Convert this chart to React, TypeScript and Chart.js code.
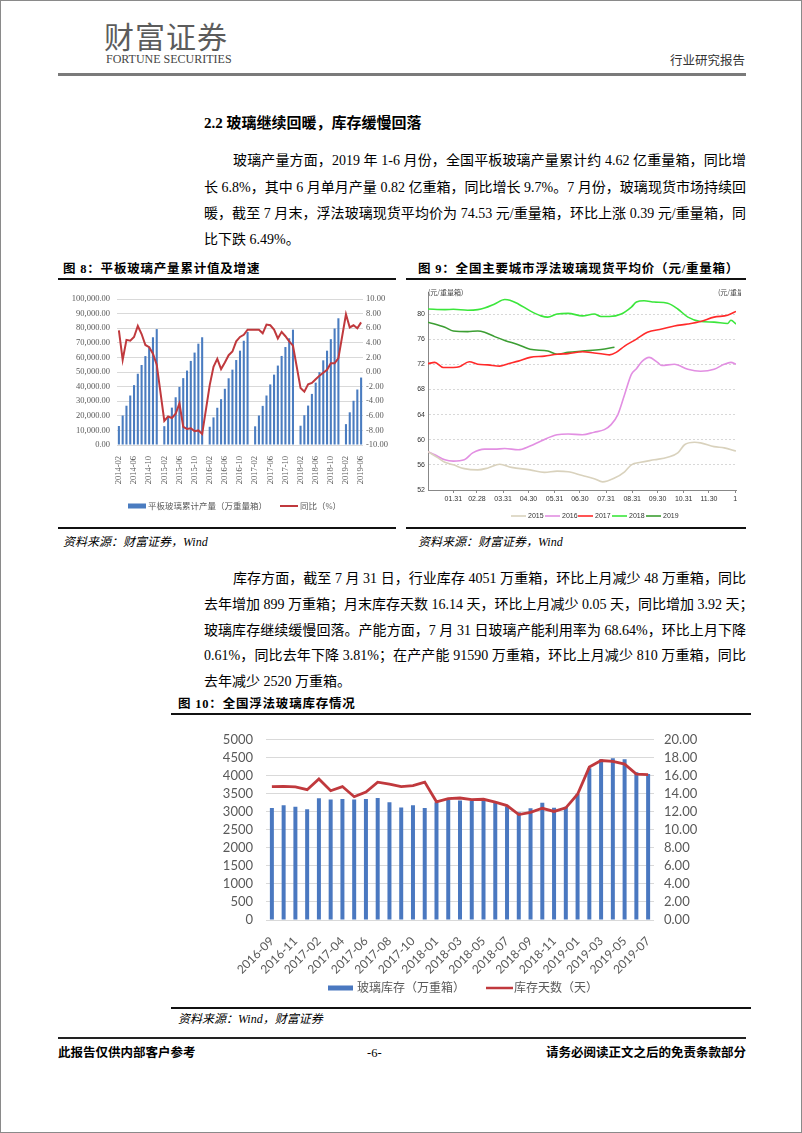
import React, { useEffect, useRef } from 'react';
import { Chart, registerables } from 'chart.js';
Chart.register(...registerables);

// ---------------- Figure 8: flat glass cumulative output & YoY ----------------
const fig8Months = [
  '2014-02','2014-03','2014-04','2014-05','2014-06','2014-07','2014-08','2014-09','2014-10','2014-11','2014-12',
  '2015-01','2015-02','2015-03','2015-04','2015-05','2015-06','2015-07','2015-08','2015-09','2015-10','2015-11','2015-12',
  '2016-01','2016-02','2016-03','2016-04','2016-05','2016-06','2016-07','2016-08','2016-09','2016-10','2016-11','2016-12',
  '2017-01','2017-02','2017-03','2017-04','2017-05','2017-06','2017-07','2017-08','2017-09','2017-10','2017-11','2017-12',
  '2018-01','2018-02','2018-03','2018-04','2018-05','2018-06','2018-07','2018-08','2018-09','2018-10','2018-11','2018-12',
  '2019-01','2019-02','2019-03','2019-04','2019-05','2019-06',
];
const fig8Output = [
  13000, 20200, 26900, 33900, 41000, 48800, 54800, 60900, 67400, 73800, 79400,
  null, 12900, 19500, 25600, 32700, 39800, 45800, 51000, 57600, 63300, 69400, 73800,
  null, 12500, 18900, 25500, 31400, 38500, 45700, 51600, 58200, 64600, 71400, 77400,
  null, 12800, 20200, 26800, 33900, 41500, 48200, 54400, 61000, 67100, 73100, 79000,
  null, 13200, 20400, 27000, 35000, 42700, 49900, 58000, 64600, 72500, 79800, 86800,
  null, 14300, 22400, 30300, 38000, 46200,
];
const fig8Yoy = [
  5.7, 1.65, 4.4, 4.3, 4.8, 6.3, 5.2, 3.7, 3.4, 2.5, 1.0,
  null, -6.7, -6.1, -6.3, -5.7, -4.3, -7.5, -7.8, -7.7, -8.1, -8.0, -8.5,
  null, -1.8, 0.7, 1.8, 0.4, 1.3, 2.3, 2.8, 4.2, 4.8, 5.1, 5.8,
  null, 5.8, 5.8, 5.3, 6.5, 6.4, 5.8, 4.6, 5.5, 4.9, 4.2, 3.6,
  null, -2.2, -2.7, -1.7, -1.5, -1.0, -0.5, -0.1, 0.3, 1.2, 1.2, 1.9,
  null, 7.9, 6.1, 6.4, 6.0, 6.8,
];
const fig8LeftTicks = [0, 10000, 20000, 30000, 40000, 50000, 60000, 70000, 80000, 90000, 100000];
const fig8RightTicks = [-10, -8, -6, -4, -2, 0, 2, 4, 6, 8, 10];

// ---------------- Figure 9: float glass spot price by year (day of year, price) ----------------
const fig9TickDays = [30, 58, 89, 119, 150, 180, 211, 242, 272, 303, 333, 364];
const fig9TickLabels = ['01.31', '02.28', '03.31', '04.30', '05.31', '06.30', '07.31', '08.31', '09.30', '10.31', '11.30', '1'];
const fig9YTicks = [52, 56, 60, 64, 68, 72, 76, 80];
const price2015: [number, number][] = [
  [0, 58.1], [12, 57.1], [20, 56.4], [30, 56.0], [43, 55.4], [59, 55.2], [71, 55.5], [85, 56.1], [99, 55.6],
  [121, 55.2], [138, 54.8], [153, 55.0], [166, 54.9], [183, 54.3], [197, 53.8], [207, 53.3], [221, 53.9],
  [233, 54.9], [241, 56.0], [252, 56.4], [268, 56.8], [284, 57.2], [296, 57.9], [304, 59.2], [316, 59.6],
  [323, 59.5], [339, 58.9], [351, 58.7], [365, 58.2],
];
const price2016: [number, number][] = [
  [0, 58.1], [8, 57.6], [20, 56.8], [30, 56.6], [43, 56.8], [53, 57.9], [67, 58.5], [79, 58.5], [91, 58.6],
  [107, 58.4], [121, 59.0], [134, 59.8], [153, 60.8], [166, 60.9], [183, 60.8], [197, 61.2], [209, 61.6],
  [217, 62.4], [225, 64.0], [233, 67.2], [241, 70.4], [247, 71.3], [254, 72.5], [262, 73.1], [272, 72.3],
  [277, 71.8], [292, 72.0], [308, 71.2], [323, 70.9], [339, 71.2], [351, 72.0], [359, 72.3], [365, 72.0],
];
const price2017: [number, number][] = [
  [0, 72.1], [8, 72.3], [18, 71.5], [30, 71.5], [37, 71.6], [49, 72.4], [59, 72.0], [71, 71.9], [85, 71.7],
  [95, 72.1], [107, 72.5], [121, 73.1], [138, 73.3], [153, 73.6], [166, 73.7], [183, 74.0], [197, 73.8],
  [209, 73.6], [215, 73.5], [223, 73.9], [233, 74.9], [247, 76.0], [260, 77.1], [277, 77.6], [292, 78.1],
  [308, 78.4], [323, 78.8], [339, 79.5], [355, 79.8], [365, 80.4],
];
const price2018: [number, number][] = [
  [0, 80.8], [20, 80.7], [30, 80.75], [47, 80.6], [59, 80.7], [67, 80.96], [79, 81.6], [91, 82.3], [97, 82.2],
  [107, 81.6], [121, 80.5], [134, 79.7], [142, 79.5], [153, 80.0], [166, 80.1], [183, 79.7], [197, 80.0],
  [205, 79.6], [215, 79.6], [229, 80.0], [241, 81.1], [247, 81.9], [256, 82.1], [268, 81.9], [284, 81.7],
  [296, 80.8], [308, 79.5], [323, 78.8], [339, 78.7], [355, 78.5], [359, 79.0], [365, 78.4],
];
const price2019: [number, number][] = [
  [0, 78.7], [20, 77.9], [30, 77.3], [47, 77.2], [59, 77.3], [67, 77.1], [79, 76.4], [91, 75.8], [107, 75.1],
  [121, 74.4], [142, 74.1], [153, 73.6], [166, 73.9], [183, 74.1], [205, 74.35], [221, 74.7],
];
const fig9Years = ['2015', '2016', '2017', '2018', '2019'];
const fig9Colors = ['#d9d2bd', '#e28fe2', '#ff2a2a', '#3be63b', '#3c9e33'];

// ---------------- Figure 10: float glass inventory ----------------
const fig10Months = [
  '2016-09','2016-10','2016-11','2016-12','2017-02','2017-03','2017-04','2017-05','2017-06','2017-07','2017-08',
  '2017-09','2017-10','2017-11','2018-01','2018-02','2018-03','2018-04','2018-05','2018-06','2018-07','2018-08',
  '2018-09','2018-10','2018-11','2018-12','2019-01','2019-02','2019-03','2019-04','2019-05','2019-06','2019-07',
];
const fig10Stock = [
  3105, 3185, 3140, 3070, 3375, 3345, 3360, 3345, 3360, 3385, 3270,
  3125, 3185, 3105, 3265, 3330, 3316, 3316, 3300, 3246, 3150, 2990,
  3100, 3250, 3115, 3140, 3500, 4210, 4460, 4490, 4460, 4099, 4051,
];
const fig10Days = [
  14.81, 14.84, 14.77, 14.46, 15.65, 14.35, 14.81, 13.68, 14.21, 15.30, 15.09,
  14.81, 14.91, 15.30, 13.12, 13.48, 13.54, 13.37, 13.40, 13.09, 12.7, 11.7,
  11.95, 12.4, 12.05, 12.45, 13.96, 16.97, 17.7, 17.6, 17.3, 16.19, 16.14,
];
const fig10LeftTicks = [0, 500, 1000, 1500, 2000, 2500, 3000, 3500, 4000, 4500, 5000];
const fig10RightTicks = [0, 2, 4, 6, 8, 10, 12, 14, 16, 18, 20];

const SERIF = "'Liberation Serif','Noto Sans CJK SC',serif";
const CJK = "'Noto Sans CJK SC','Liberation Serif',sans-serif";

const fixTicks = (vals: number[]) => (s: any) => { s.ticks = vals.map((v) => ({ value: v })); };

type LegendItem = { ds: number; type: 'rect' | 'line'; x: number; y: number; w: number; h: number; gap: number };

function legendPlugin(id: string, items: LegendItem[], font: string, textColor: string) {
  return {
    id,
    afterDraw(chart: any) {
      const ctx = chart.ctx;
      ctx.save();
      ctx.font = font;
      ctx.textBaseline = 'middle';
      ctx.textAlign = 'left';
      for (const it of items) {
        const ds = chart.data.datasets[it.ds];
        if (it.type === 'rect') {
          ctx.fillStyle = ds.backgroundColor;
          ctx.fillRect(it.x, it.y - it.h / 2, it.w, it.h);
        } else {
          ctx.strokeStyle = ds.borderColor;
          ctx.lineWidth = it.h;
          ctx.beginPath();
          ctx.moveTo(it.x, it.y);
          ctx.lineTo(it.x + it.w, it.y);
          ctx.stroke();
        }
        ctx.fillStyle = textColor;
        ctx.fillText(ds.label, it.x + it.w + it.gap, it.y + 0.5);
      }
      ctx.restore();
    },
  };
}

function unitPlugin() {
  return {
    id: 'unitLabels',
    afterDraw(chart: any) {
      const ctx = chart.ctx;
      ctx.save();
      ctx.font = "7px 'Noto Sans CJK SC','Liberation Sans'";
      ctx.fillStyle = '#444';
      ctx.textBaseline = 'middle';
      ctx.fillText('(元/重量箱)', 22, 8);
      ctx.fillText('(元/重量箱)', 312, 8);
      ctx.restore();
    },
  };
}

function fig8Config(): any {
  const tickFont = { family: SERIF, size: 8.5 };
  return {
    data: {
      labels: fig8Months,
      datasets: [
        {
          type: 'line', label: '同比（%）', data: fig8Yoy, borderColor: '#c0393d', backgroundColor: '#c0393d',
          borderWidth: 2, pointRadius: 0, spanGaps: true, yAxisID: 'y1', order: 0, tension: 0,
        },
        {
          type: 'bar', label: '平板玻璃累计产量（万重量箱）', data: fig8Output, backgroundColor: '#4a7cc0',
          yAxisID: 'y', barPercentage: 0.55, categoryPercentage: 1, order: 1,
        },
      ],
    },
    options: {
      responsive: false, animation: false,
      layout: { padding: { top: 13, left: 0, right: 0, bottom: 0 } },
      plugins: { legend: { display: false }, tooltip: { enabled: false } },
      scales: {
        x: {
          grid: { display: false }, border: { display: false },
          ticks: {
            autoSkip: false, maxRotation: 90, minRotation: 90, padding: 3, font: tickFont, color: '#595959',
            callback: (_v: any, i: number) => (i % 4 === 0 ? fig8Months[i] : ''),
          },
          afterFit: (s: any) => { s.height = 76; },
        },
        y: {
          position: 'left', min: 0, max: 100000,
          afterBuildTicks: fixTicks(fig8LeftTicks),
          ticks: {
            autoSkip: false, padding: 7, font: tickFont, color: '#595959',
            callback: (v: any) => Number(v).toLocaleString('en-US', { minimumFractionDigits: 2, maximumFractionDigits: 2 }),
          },
          grid: { color: '#d9d9d9', drawTicks: false }, border: { display: false },
          afterFit: (s: any) => { s.width = 59; },
        },
        y1: {
          position: 'right', min: -10, max: 10,
          afterBuildTicks: fixTicks(fig8RightTicks),
          ticks: { autoSkip: false, padding: 3, font: tickFont, color: '#595959', callback: (v: any) => Number(v).toFixed(2) },
          grid: { display: false, drawTicks: false }, border: { display: false },
          afterFit: (s: any) => { s.width = 35; },
        },
      },
    },
    plugins: [
      legendPlugin('leg8', [
        { ds: 1, type: 'rect', x: 70, y: 220, w: 18, h: 5, gap: 2 },
        { ds: 0, type: 'line', x: 222, y: 220, w: 18, h: 2, gap: 2 },
      ], `8.5px ${SERIF}`, '#595959'),
    ],
  };
}

function fig9Config(): any {
  const series = [price2015, price2016, price2017, price2018, price2019];
  const tickFont = { family: "'Liberation Sans',sans-serif", size: 7 };
  return {
    type: 'line',
    data: {
      datasets: series.map((s, i) => ({
        label: fig9Years[i],
        data: s.map(([d, v]) => ({ x: d, y: v })),
        borderColor: fig9Colors[i], backgroundColor: fig9Colors[i],
        borderWidth: 1.6, pointRadius: 0, tension: 0.35, cubicInterpolationMode: 'monotone',
      })),
    },
    options: {
      responsive: false, animation: false,
      layout: { padding: { top: 8, left: 0, right: 5, bottom: 0 } },
      plugins: { legend: { display: false }, tooltip: { enabled: false } },
      scales: {
        x: {
          type: 'linear', min: 0, max: 365,
          afterBuildTicks: fixTicks(fig9TickDays),
          ticks: {
            autoSkip: false, maxRotation: 0, minRotation: 0, padding: 2, font: tickFont, color: '#333',
            callback: (_v: any, i: number) => fig9TickLabels[i],
          },
          grid: { drawOnChartArea: false, drawTicks: true, tickLength: 3, color: '#888' },
          border: { display: true, color: '#888' },
          afterFit: (s: any) => { s.height = 34; },
        },
        y: {
          min: 52, max: 83.5,
          afterBuildTicks: fixTicks(fig9YTicks),
          ticks: { autoSkip: false, padding: 3, font: tickFont, color: '#333', callback: (v: any) => String(v) },
          grid: { color: '#d8d8d8', drawTicks: false },
          border: { display: true, color: '#888', dash: [2, 2] },
          afterFit: (s: any) => { s.width = 22; },
        },
      },
    },
    plugins: [
      unitPlugin(),
      legendPlugin('leg9', [
        { ds: 0, type: 'line', x: 105, y: 232, w: 15, h: 1.6, gap: 2 },
        { ds: 1, type: 'line', x: 139, y: 232, w: 15, h: 1.6, gap: 2 },
        { ds: 2, type: 'line', x: 172, y: 232, w: 15, h: 1.6, gap: 2 },
        { ds: 3, type: 'line', x: 206, y: 232, w: 15, h: 1.6, gap: 2 },
        { ds: 4, type: 'line', x: 240, y: 232, w: 15, h: 1.6, gap: 2 },
      ], "7px 'Liberation Sans',sans-serif", '#333'),
    ],
  };
}

function fig10Config(): any {
  const yFont = { family: "Lato,'Liberation Sans',sans-serif", size: 13 };
  const xFont = { family: "Lato,'Liberation Sans',sans-serif", size: 12 };
  return {
    data: {
      labels: fig10Months,
      datasets: [
        {
          type: 'line', label: '库存天数（天）', data: fig10Days, borderColor: '#c0393d', backgroundColor: '#c0393d',
          borderWidth: 2.8, pointRadius: 0, yAxisID: 'y1', order: 0, tension: 0,
        },
        {
          type: 'bar', label: '玻璃库存（万重箱）', data: fig10Stock, backgroundColor: '#4a78c0',
          yAxisID: 'y', barPercentage: 0.34, categoryPercentage: 1, order: 1,
        },
      ],
    },
    options: {
      responsive: false, animation: false,
      layout: { padding: { top: 12, left: 0, right: 0, bottom: 0 } },
      plugins: { legend: { display: false }, tooltip: { enabled: false } },
      scales: {
        x: {
          grid: { display: false }, border: { display: false },
          ticks: {
            autoSkip: false, maxRotation: 45, minRotation: 45, padding: 6, font: xFont, color: '#595959',
            callback: (_v: any, i: number) => (i % 2 === 0 ? fig10Months[i] : ''),
          },
          afterFit: (s: any) => { s.height = 79; },
        },
        y: {
          position: 'left', min: 0, max: 5000,
          afterBuildTicks: fixTicks(fig10LeftTicks),
          ticks: { autoSkip: false, padding: 13, font: yFont, color: '#595959', callback: (v: any) => String(v) },
          grid: { color: '#d9d9d9', drawTicks: false }, border: { display: false },
          afterFit: (s: any) => { s.width = 95; },
        },
        y1: {
          position: 'right', min: 0, max: 20,
          afterBuildTicks: fixTicks(fig10RightTicks),
          ticks: { autoSkip: false, padding: 10, font: yFont, color: '#595959', callback: (v: any) => Number(v).toFixed(2) },
          grid: { display: false, drawTicks: false }, border: { display: false },
          afterFit: (s: any) => { s.width = 97; },
        },
      },
    },
    plugins: [
      legendPlugin('leg10', [
        { ds: 1, type: 'rect', x: 157, y: 269, w: 25, h: 5, gap: 4 },
        { ds: 0, type: 'line', x: 315, y: 269, w: 27, h: 2.5, gap: 1 },
      ], `12px ${SERIF}`, '#595959'),
    ],
  };
}

function ChartCanvas({ left, top, width, height, make }: { left: number; top: number; width: number; height: number; make: () => any }) {
  const ref = useRef<HTMLCanvasElement>(null);
  useEffect(() => {
    const chart = new Chart(ref.current as HTMLCanvasElement, make());
    return () => chart.destroy();
  }, []);
  return (
    <div style={{ position: 'absolute', left, top, width, height }}>
      <canvas ref={ref} width={width} height={height} style={{ width, height, display: 'block' }} />
    </div>
  );
}

function TextLine({ x, y, w, text, last, size = 14 }: { x: number; y: number; w: number; text: string; last?: boolean; size?: number }) {
  return (
    <div
      style={{
        position: 'absolute', left: x, top: y - 10, width: w, height: 20, lineHeight: '20px', fontSize: size,
        textAlign: 'justify', textAlignLast: last ? 'left' : 'justify', whiteSpace: 'nowrap', color: '#000',
      } as any}
    >
      {text}
    </div>
  );
}

function Rule({ x1, x2, y, t, c }: { x1: number; x2: number; y: number; t: number; c: string }) {
  return <div style={{ position: 'absolute', left: x1, top: y - t / 2, width: x2 - x1, height: t, background: c }} />;
}

function Abs({ x, y, children, style }: { x: number; y: number; children: any; style?: any }) {
  return <div style={{ position: 'absolute', left: x, top: y, whiteSpace: 'nowrap', ...style }}>{children}</div>;
}

export default function App() {
  const figTitle = { fontSize: 12.5, fontWeight: 700, letterSpacing: 0.8, lineHeight: '16px', fontFamily: SERIF };
  const src = { fontSize: 12, fontStyle: 'italic', lineHeight: '16px', fontFamily: SERIF };
  return (
    <div
      style={{
        position: 'absolute', left: 0, top: 0, width: 802, height: 1133, boxSizing: 'border-box',
        border: '1px solid #8a8a8a', background: '#fff', fontFamily: SERIF, color: '#000', overflow: 'hidden',
      }}
    >
      {/* header */}
      <Abs x={103} y={14} style={{ fontSize: 30, color: '#5c5c5c', fontFamily: CJK, letterSpacing: 1, lineHeight: '40px' }}>财富证券</Abs>
      <Abs x={105} y={51} style={{ fontSize: 12, color: '#444', lineHeight: '14px' }}>FORTUNE SECURITIES</Abs>
      <Abs x={669} y={52} style={{ fontSize: 12.5, color: '#333', lineHeight: '16px' }}>行业研究报告</Abs>
      <Rule x1={57} x2={745} y={73} t={3} c="#7a7a7a" />

      {/* section heading & paragraph 1 */}
      <Abs x={203} y={112} style={{ fontSize: 15, fontWeight: 700, lineHeight: '20px' }}>2.2 玻璃继续回暖，库存缓慢回落</Abs>
      <TextLine x={232} y={160} w={513} text="玻璃产量方面，2019 年 1-6 月份，全国平板玻璃产量累计约 4.62 亿重量箱，同比增" />
      <TextLine x={203} y={187} w={542} text="长 6.8%，其中 6 月单月产量 0.82 亿重箱，同比增长 9.7%。7 月份，玻璃现货市场持续回" />
      <TextLine x={203} y={213} w={542} text="暖，截至 7 月末，浮法玻璃现货平均价为 74.53 元/重量箱，环比上涨 0.39 元/重量箱，同" />
      <TextLine x={203} y={239} w={542} text="比下跌 6.49%。" last />

      {/* figure 8 */}
      <Abs x={62} y={260} style={figTitle}>图 8：平板玻璃产量累计值及增速</Abs>
      <Rule x1={57} x2={395} y={278} t={1.3} c="#111" />
      <ChartCanvas left={57} top={285} width={340} height={235} make={fig8Config} />
      <Rule x1={57} x2={395} y={527} t={1.3} c="#111" />
      <Abs x={62} y={533} style={src}>资料来源：财富证券，Wind</Abs>

      {/* figure 9 */}
      <Abs x={417} y={260} style={figTitle}>图 9：全国主要城市浮法玻璃现货平均价（元/重量箱）</Abs>
      <Rule x1={405} x2={745} y={278} t={1.3} c="#111" />
      <ChartCanvas left={405} top={283} width={335} height={240} make={fig9Config} />
      <Rule x1={405} x2={745} y={527} t={1.3} c="#111" />
      <Abs x={417} y={533} style={src}>资料来源：财富证券，Wind</Abs>

      {/* paragraph 2 */}
      <TextLine x={232} y={578} w={513} text="库存方面，截至 7 月 31 日，行业库存 4051 万重箱，环比上月减少 48 万重箱，同比" />
      <TextLine x={203} y={604} w={542} text="去年增加 899 万重箱；月末库存天数 16.14 天，环比上月减少 0.05 天，同比增加 3.92 天；" />
      <TextLine x={203} y={630} w={542} text="玻璃库存继续缓慢回落。产能方面，7 月 31 日玻璃产能利用率为 68.64%，环比上月下降" />
      <TextLine x={203} y={655} w={542} text="0.61%，同比去年下降 3.81%；在产产能 91590 万重箱，环比上月减少 810 万重箱，同比" />
      <TextLine x={203} y={681} w={542} text="去年减少 2520 万重箱。" last />

      {/* figure 10 */}
      <Abs x={177} y={695} style={figTitle}>图 10：全国浮法玻璃库存情况</Abs>
      <Rule x1={170} x2={750} y={713} t={1.3} c="#111" />
      <ChartCanvas left={170} top={718} width={580} height={280} make={fig10Config} />
      <Rule x1={170} x2={750} y={1007} t={1.3} c="#111" />
      <Abs x={177} y={1010} style={src}>资料来源：Wind，财富证券</Abs>

      {/* footer */}
      <Rule x1={57} x2={745} y={1037} t={2.5} c="#222" />
      <Abs x={57} y={1044} style={{ fontSize: 12.5, fontWeight: 700, lineHeight: '16px' }}>此报告仅供内部客户参考</Abs>
      <Abs x={366} y={1044} style={{ fontSize: 12.5, lineHeight: '16px' }}>-6-</Abs>
      <Abs x={545} y={1044} style={{ fontSize: 12.5, fontWeight: 700, lineHeight: '16px', width: 200, textAlign: 'right' }}>请务必阅读正文之后的免责条款部分</Abs>
    </div>
  );
}
